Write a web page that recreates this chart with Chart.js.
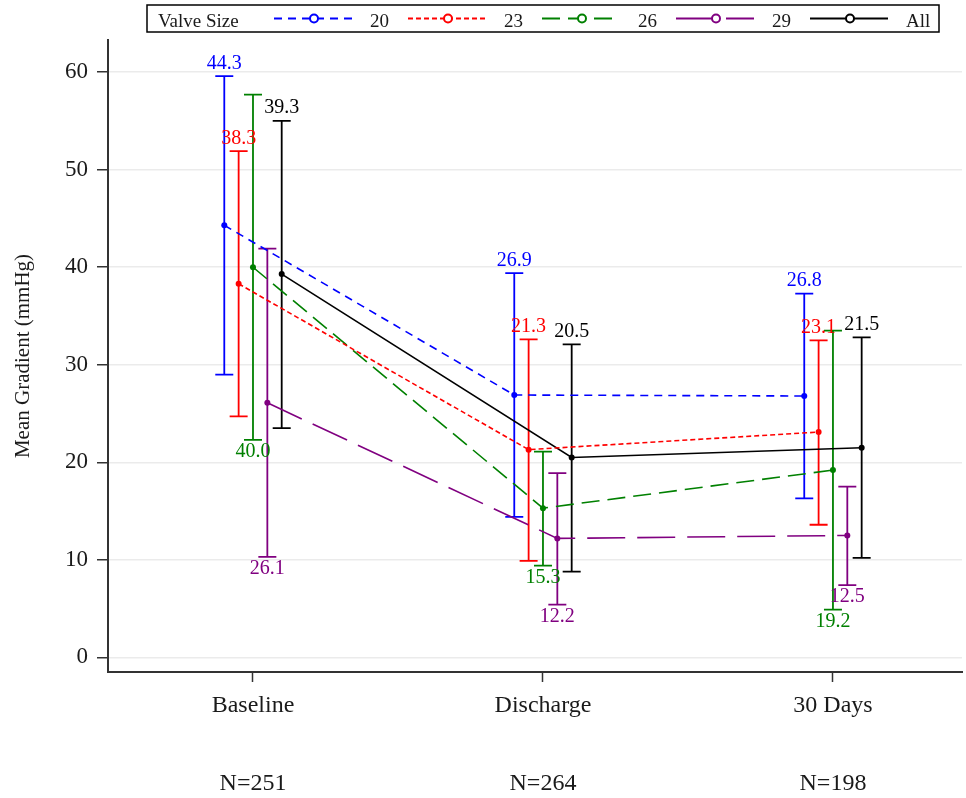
<!DOCTYPE html>
<html>
<head>
<meta charset="utf-8">
<script src="https://cdn.jsdelivr.net/npm/chart.js@4"></script>
<style>
  body { margin: 0; background: #fff; }
  canvas { display: block; }
</style>
</head>
<body>
<canvas id="chart" width="966" height="798"></canvas>
<script>
const timepoints = ['Baseline', 'Discharge', '30 Days'];
const sampleSizes = ['N=251', 'N=264', 'N=198'];
const valveSizes = ['20', '23', '26', '29', 'All'];
const yTicks = [0, 10, 20, 30, 40, 50, 60];

// mean gradient per valve size (rows) and timepoint (cols)
const meanGradient = [
    [44.3, 26.9, 26.8],
    [38.3, 21.3, 23.1],
    [40.0, 15.3, 19.2],
    [26.1, 12.2, 12.5],
    [39.3, 20.5, 21.5]
];
const lowerBound = [
    [29.0, 14.4, 16.3],
    [24.7, 9.9, 13.6],
    [22.3, 9.4, 4.9],
    [10.3, 5.4, 7.4],
    [23.5, 8.8, 10.2]
];
const upperBound = [
    [59.6, 39.4, 37.3],
    [51.9, 32.6, 32.5],
    [57.7, 21.1, 33.5],
    [41.9, 18.9, 17.5],
    [55.0, 32.1, 32.8]
];

// styling
const colors = ['#0000ff', '#ff0000', '#008000', '#800080', '#000000'];
const dashes = [[8, 6], [5, 3], [18, 8], [38, 12], []];
const labelAbove = [true, true, false, false, true];
const groupShift = 0.0495;
const serif = "'Liberation Serif', 'Times New Roman', serif";
const textColor = '#1a1a1a';

const errorBars = {
    id: 'errorBars',
    beforeDatasetsDraw(chart) {
        const ctx = chart.ctx;
        const x = chart.scales.x, y = chart.scales.y;
        ctx.save();
        chart.data.datasets.forEach((ds, k) => {
            ds.data.forEach((pt, i) => {
                const px = x.getPixelForValue(pt.x);
                const top = y.getPixelForValue(upperBound[k][i]);
                const bot = y.getPixelForValue(lowerBound[k][i]);
                ctx.strokeStyle = ds.borderColor;
                ctx.lineWidth = 1.8;
                ctx.setLineDash([]);
                ctx.beginPath();
                ctx.moveTo(px, top); ctx.lineTo(px, bot);
                ctx.moveTo(px - 9, top); ctx.lineTo(px + 9, top);
                ctx.moveTo(px - 9, bot); ctx.lineTo(px + 9, bot);
                ctx.stroke();
            });
        });
        ctx.restore();
    },
    afterDatasetsDraw(chart) {
        // value labels at the end of each error bar
        const ctx = chart.ctx;
        const x = chart.scales.x, y = chart.scales.y;
        ctx.save();
        ctx.font = '20px ' + serif;
        ctx.textAlign = 'center';
        ctx.textBaseline = 'alphabetic';
        chart.data.datasets.forEach((ds, k) => {
            ds.data.forEach((pt, i) => {
                const px = x.getPixelForValue(pt.x);
                ctx.fillStyle = ds.borderColor;
                const txt = meanGradient[k][i].toFixed(1);
                if (labelAbove[k]) {
                    ctx.fillText(txt, px, y.getPixelForValue(upperBound[k][i]) - 7.5);
                } else {
                    ctx.fillText(txt, px, y.getPixelForValue(lowerBound[k][i]) + 17);
                }
            });
        });
        ctx.restore();
    }
};

const boxLegend = {
    id: 'boxLegend',
    afterDraw(chart) {
        const ctx = chart.ctx;
        ctx.save();
        ctx.strokeStyle = '#000';
        ctx.lineWidth = 1.5;
        ctx.strokeRect(147, 5, 792, 27);
        ctx.font = '19px ' + serif;
        ctx.fillStyle = textColor;
        ctx.textBaseline = 'alphabetic';
        ctx.fillText('Valve Size', 158, 26.5);
        const my = 18.5;
        chart.data.datasets.forEach((ds, k) => {
            const x0 = 274 + k * 134;
            ctx.strokeStyle = ds.borderColor;
            ctx.lineWidth = 1.8;
            ctx.setLineDash(ds.borderDash);
            ctx.beginPath();
            ctx.moveTo(x0, my); ctx.lineTo(x0 + 78, my);
            ctx.stroke();
            ctx.setLineDash([]);
            ctx.lineWidth = 2;
            ctx.fillStyle = '#fff';
            ctx.beginPath();
            ctx.arc(x0 + 40, my, 4, 0, Math.PI * 2);
            ctx.fill();
            ctx.stroke();
            ctx.fillStyle = textColor;
            ctx.fillText(ds.label, x0 + 96, 26.5);
        });
        ctx.restore();
    }
};

const datasets = valveSizes.map((size, k) => ({
    label: size,
    data: meanGradient[k].map((v, i) => ({ x: i + (k - 2) * groupShift, y: v })),
    borderColor: colors[k],
    backgroundColor: colors[k],
    borderDash: dashes[k],
    borderWidth: 1.6,
    pointRadius: 3,
    pointBorderWidth: 0,
    pointBackgroundColor: colors[k],
    tension: 0
}));

new Chart(document.getElementById('chart'), {
    type: 'line',
    data: { datasets },
    options: {
        responsive: false,
        animation: false,
        devicePixelRatio: 1,
        layout: { padding: { top: 40, right: 1, left: 0, bottom: 0 } },
        plugins: { legend: { display: false }, tooltip: { enabled: false } },
        scales: {
            x: {
                type: 'linear',
                min: -0.5,
                max: 2.445,
                afterFit(scale) { scale.height = 126; },
                afterBuildTicks(scale) { scale.ticks = timepoints.map((t, i) => ({ value: i })); },
                ticks: {
                    autoSkip: false,
                    maxRotation: 0,
                    padding: 11,
                    color: textColor,
                    font: { family: serif, size: 24, lineHeight: 1.075 },
                    callback: (v) => [timepoints[v], '', '', sampleSizes[v]]
                },
                grid: { drawOnChartArea: false, tickLength: 10, tickColor: '#333', tickWidth: 1.5 },
                border: { color: '#333', width: 2 }
            },
            y: {
                min: -1.5,
                max: 63.3,
                afterFit(scale) { scale.width = 108; },
                afterBuildTicks(scale) { scale.ticks = yTicks.map(v => ({ value: v })); },
                ticks: {
                    padding: 9,
                    color: textColor,
                    font: { family: serif, size: 23 }
                },
                grid: { color: '#ebebeb', lineWidth: 1.5, tickLength: 11, tickColor: '#333', tickWidth: 1.5 },
                border: { color: '#333', width: 2 },
                title: {
                    display: true,
                    text: 'Mean Gradient (mmHg)',
                    color: textColor,
                    font: { family: serif, size: 21 },
                    padding: { top: 11, bottom: 0 }
                }
            }
        }
    },
    plugins: [errorBars, boxLegend]
});
</script>
</body>
</html>
